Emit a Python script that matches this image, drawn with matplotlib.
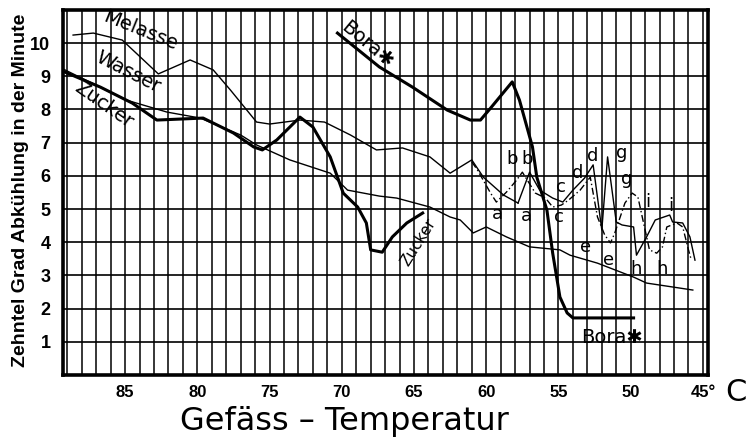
import matplotlib
matplotlib.use("Agg")
import matplotlib.pyplot as plt

plt.rcParams['font.family'] = ['Liberation Sans', 'DejaVu Sans']

# Abkühlungskurven (Gefäss-Temperatur in °C, Zehntel Grad pro Minute)
melasse_t = [88.6, 87.2, 85.2, 82.7, 80.5, 78.9, 77.7, 75.9, 75.0, 72.9, 71.2, 69.4, 67.6, 65.8, 63.9, 62.5, 61.0, 60.2, 58.8, 57.8]
melasse_v = [10.24, 10.30, 10.09, 9.07, 9.49, 9.19, 8.58, 7.62, 7.56, 7.68, 7.62, 7.23, 6.78, 6.84, 6.57, 6.08, 6.48, 5.96, 5.42, 5.18]

wasser_t = [89.3, 84.9, 82.1, 79.8, 77.0, 75.9, 73.6, 70.8, 69.6, 67.4, 66.2, 63.9, 62.5, 61.8, 60.9, 60.0, 58.6, 57.0, 54.9, 54.2, 52.3, 49.8, 48.9, 45.7]
wasser_v = [9.22, 8.28, 7.92, 7.74, 7.23, 6.93, 6.48, 6.08, 5.57, 5.39, 5.33, 5.06, 4.76, 4.67, 4.28, 4.46, 4.16, 3.86, 3.77, 3.61, 3.37, 2.95, 2.77, 2.56]

zucker_t = [89.3, 86.7, 84.5, 82.8, 79.6, 77.5, 76.1, 75.5, 74.5, 72.9, 72.0, 70.8, 69.9, 68.9, 68.3, 68.0, 67.2, 66.5, 65.5, 64.4]
zucker_v = [9.15, 8.67, 8.19, 7.68, 7.74, 7.29, 6.87, 6.78, 7.08, 7.77, 7.47, 6.57, 5.48, 5.06, 4.58, 3.77, 3.70, 4.16, 4.58, 4.88]

bora_t = [70.3, 67.4, 65.1, 62.7, 61.1, 60.4, 59.7, 58.2, 57.7, 56.8, 56.5, 55.8, 55.4, 54.9, 54.4, 54.0, 49.8]
bora_v = [10.30, 9.28, 8.67, 7.98, 7.68, 7.68, 8.04, 8.83, 8.28, 6.87, 5.96, 4.97, 3.67, 2.35, 1.87, 1.72, 1.72]

# Versuchsreihen a-i (ausgezogen und strichpunktiert)
reihe_t = [57.8, 57.0, 56.3, 55.4, 54.7, 54.0, 53.2, 52.6, 52.0, 51.6, 51.0, 50.6, 49.8, 49.6, 48.9, 48.3, 47.3, 47.1, 46.4, 45.9, 45.55]
reihe_v = [5.18, 6.11, 5.57, 5.33, 5.21, 5.57, 5.93, 6.33, 4.37, 6.57, 4.61, 4.52, 4.46, 3.61, 4.16, 4.67, 4.82, 4.61, 4.58, 4.16, 3.46]

strich_t = [61.0, 60.6, 59.7, 59.3, 58.6, 57.9, 57.5, 56.6, 55.9, 55.4, 54.8, 54.3, 53.5, 52.8, 52.3, 51.8, 51.4, 51.1, 50.4, 49.9, 49.5, 49.2, 48.7, 48.2, 47.8, 47.5, 46.8, 46.4, 46.0, 45.8]
strich_v = [6.42, 6.17, 5.48, 5.21, 5.51, 5.87, 6.11, 5.48, 5.33, 5.06, 5.12, 5.27, 5.57, 5.96, 4.76, 4.22, 3.98, 4.28, 5.18, 5.48, 5.36, 4.76, 3.77, 3.67, 3.86, 4.46, 4.58, 4.46, 3.77, 3.46]

buchst = ['a', 'a', 'b', 'b', 'c', 'c', 'd', 'd', 'g', 'g', 'e', 'e', 'h', 'h', 'i', 'i']
buchst_t = [59.2, 57.2, 58.2, 57.2, 54.85, 55.0, 53.7, 52.6, 50.6, 50.3, 53.1, 51.5, 49.6, 47.8, 48.8, 47.2]
buchst_v = [4.85, 4.8, 6.5, 6.5, 5.65, 4.75, 6.1, 6.6, 6.7, 5.9, 3.85, 3.45, 3.2, 3.2, 5.2, 5.1]

x_ticks = [85, 80, 75, 70, 65, 60, 55, 50, 45]
x_labels = ['85', '80', '75', '70', '65', '60', '55', '50', '45°']
y_ticks = list(range(1, 11))

fig = plt.figure(figsize=(7.48, 4.47), dpi=100)
ax = fig.add_axes([0.0842, 0.161, 0.8623, 0.817])
ax.set_xlim(89.3, 44.65)
ax.set_ylim(0, 11)

# Raster: 1 Grad / 1 Zehntel
for t in range(45, 90):
    ax.axvline(t, color='black', lw=1.1, zorder=1)
for v in y_ticks:
    ax.axhline(v, color='black', lw=1.2, zorder=1)

for s in ax.spines.values():
    s.set_linewidth(2.6)

ax.plot(melasse_t, melasse_v, color='black', lw=1.0, zorder=3)
ax.plot(wasser_t, wasser_v, color='black', lw=1.0, zorder=3)
ax.plot(zucker_t, zucker_v, color='black', lw=2.2, zorder=4)
ax.plot(bora_t, bora_v, color='black', lw=2.2, zorder=4)
ax.plot(reihe_t, reihe_v, color='black', lw=1.0, zorder=3)
ax.plot(strich_t, strich_v, color='black', lw=1.0, ls=(0, (5, 2, 1, 2)), zorder=3)

for b, t, v in zip(buchst, buchst_t, buchst_v):
    ax.text(t, v, b, fontsize=13, ha='center', va='center', family='DejaVu Sans', zorder=5)

kurv = dict(fontsize=14, ha='center', va='center', family='DejaVu Sans', zorder=5)
ax.text(83.9, 10.38, 'Melasse', rotation=-22, **kurv)
ax.text(84.8, 9.13, 'Wasser', rotation=-27, **kurv)
ax.text(86.5, 8.13, 'Zucker', rotation=-35, **kurv)
ax.text(68.2, 9.95, 'Bora✱', rotation=-40, **kurv)
ax.text(64.7, 4.0, 'Zucker', rotation=58, fontsize=11, ha='center', va='center',
        family='DejaVu Sans', zorder=5)
ax.text(51.3, 1.14, 'Bora✱', fontsize=14, ha='center', va='center',
        family='DejaVu Sans', zorder=5)

ax.set_xticks(x_ticks)
ax.set_xticklabels(x_labels, fontsize=12, fontweight='bold')
ax.set_yticks(y_ticks)
ax.set_yticklabels([str(v) for v in y_ticks], fontsize=13, fontweight='bold')
ax.tick_params(axis='x', length=0, pad=7)
ax.tick_params(axis='y', length=0, pad=9)
ax.grid(False)

fig.text(0.984, 0.121, 'C', fontsize=22, ha='center', va='center', family='DejaVu Sans')
fig.text(0.461, 0.056, 'Gefäss – Temperatur', fontsize=23, ha='center', va='center',
         family='DejaVu Sans')
fig.text(0.027, 0.575, 'Zehntel Grad Abkühlung in der Minute', rotation=90,
         fontsize=14, fontweight='bold', ha='center', va='center')

plt.savefig('out.png', dpi=100)
